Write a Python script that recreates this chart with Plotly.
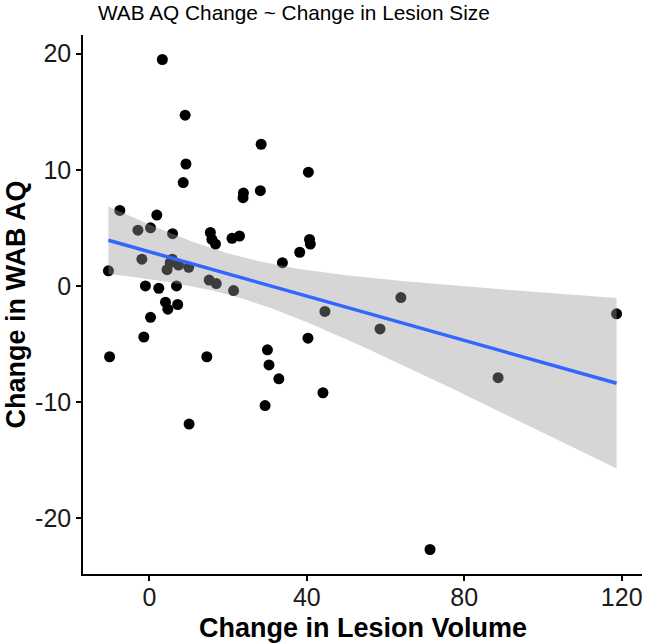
import numpy as np
import plotly.graph_objects as go

# Change in lesion volume (x) and change in WAB AQ (y)
lesion_change = [3.3, 9.1, 28.4, 9.3, 40.4, 8.6, 28.2, 23.9, 23.8, -7.5,
                 1.9, 0.3, -2.9, 15.5, 5.9, 22.9, 21.0, 15.9, 40.7, 16.8,
                 40.9, 38.2, -1.9, 5.8, 33.8, 5.3, 7.4, 10.0, 4.5, -10.4,
                 15.2, 17.0, -1.0, 6.9, 2.4, 21.4, 63.9, 4.1, 7.2, 4.7,
                 44.6, 118.7, 0.3, 58.6, -1.4, 40.3, 30.0, -10.1, 14.6, 30.4,
                 88.6, 32.9, 44.1, 29.4, 10.1, 71.3]
wab_change = [19.5, 14.7, 12.2, 10.5, 9.8, 8.9, 8.2, 8.0, 7.6, 6.5,
              6.1, 5.0, 4.8, 4.6, 4.5, 4.3, 4.1, 4.0, 4.0, 3.6,
              3.6, 2.9, 2.3, 2.3, 2.0, 2.0, 1.8, 1.6, 1.4, 1.3,
              0.5, 0.2, 0.0, 0.0, -0.2, -0.4, -1.0, -1.4, -1.6, -2.0,
              -2.2, -2.4, -2.7, -3.7, -4.4, -4.5, -5.5, -6.1, -6.1, -6.8,
              -7.9, -8.0, -9.2, -10.3, -11.9, -22.7]

x_ticks = [0, 40, 80, 120]
y_ticks = [-20, -10, 0, 10, 20]

title_text = "WAB AQ Change ~ Change in Lesion Size"
x_title = "Change in Lesion Volume"
y_title = "Change in WAB AQ"

# Linear fit with 95% confidence band (like geom_smooth(method = "lm"))
X = np.array(lesion_change, dtype=float)
Y = np.array(wab_change, dtype=float)
n = len(X)
b1, b0 = np.polyfit(X, Y, 1)
resid = Y - (b0 + b1 * X)
s = np.sqrt(np.sum(resid ** 2) / (n - 2))
sxx = np.sum((X - X.mean()) ** 2)
t_crit = 2.005  # t quantile 0.975, df = 54
xg = np.linspace(X.min(), X.max(), 80)
yg = b0 + b1 * xg
se = s * np.sqrt(1.0 / n + (xg - X.mean()) ** 2 / sxx)
upper = yg + t_crit * se
lower = yg - t_crit * se

FONT = "Liberation Sans, Arial, sans-serif"

fig = go.Figure()
fig.add_trace(go.Scatter(
    x=lesion_change, y=wab_change, mode="markers",
    marker=dict(color="black", size=11, line=dict(width=0)),
    showlegend=False, hoverinfo="x+y"))
fig.add_trace(go.Scatter(
    x=np.concatenate([xg, xg[::-1]]), y=np.concatenate([upper, lower[::-1]]),
    mode="lines", fill="toself", fillcolor="rgba(153,153,153,0.4)",
    line=dict(width=0), showlegend=False, hoverinfo="skip"))
fig.add_trace(go.Scatter(
    x=xg, y=yg, mode="lines", line=dict(color="#3366FF", width=3.5),
    showlegend=False, hoverinfo="skip"))

span_x = X.max() - X.min()
span_y = Y.max() - Y.min()

axis_common = dict(
    showline=True, linecolor="black", linewidth=1.5,
    ticks="outside", ticklen=5, tickwidth=1.5, tickcolor="black",
    tickfont=dict(size=25, color="#1a1a1a", family=FONT),
    showgrid=False, zeroline=False, automargin=False,
)

fig.update_layout(
    width=646, height=644,
    margin=dict(l=83, r=4, t=35, b=70),
    plot_bgcolor="white", paper_bgcolor="white",
    font=dict(family=FONT, color="black"),
    title=dict(text=title_text, font=dict(size=20.8, color="black", family=FONT),
               xref="container", x=98 / 646, xanchor="left",
               yref="container", y=1 - 13 / 644, yanchor="middle"),
    xaxis=dict(
        range=[X.min() - 0.05 * span_x, X.max() + 0.05 * span_x],
        tickvals=x_ticks, ticktext=[str(v) for v in x_ticks],
        ticklabelstandoff=-5,
        **axis_common,
    ),
    yaxis=dict(
        range=[Y.min() - 0.05 * span_y, Y.max() + 0.05 * span_y],
        tickvals=y_ticks, ticktext=[str(v) for v in y_ticks],
        **axis_common,
    ),
    annotations=[
        dict(text="<b>" + x_title + "</b>", xref="paper", yref="paper",
             x=0.5, y=-(628 - 574) / 539, xanchor="center", yanchor="middle",
             showarrow=False, font=dict(size=27, color="black", family=FONT)),
        dict(text="<b>" + y_title + "</b>", xref="paper", yref="paper",
             x=(15 - 83) / 559, y=0.5, xanchor="center", yanchor="middle",
             textangle=-90, showarrow=False,
             font=dict(size=27, color="black", family=FONT)),
    ],
)

fig.write_html(
    "out.html",
    config={"displayModeBar": False},
    post_script="document.body.style.margin='0';document.body.style.overflow='hidden';",
)
